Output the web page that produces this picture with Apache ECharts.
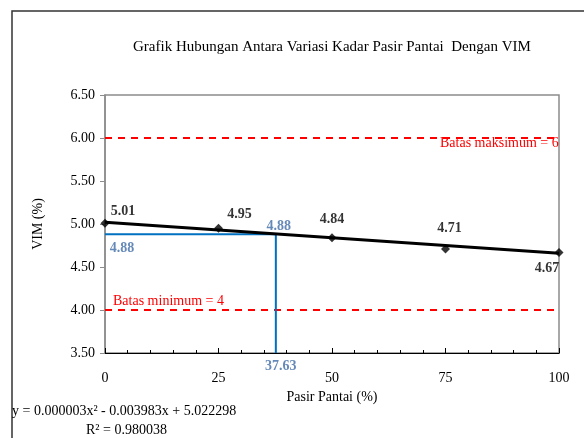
<!DOCTYPE html>
<html>
<head>
<meta charset="utf-8">
<script src="https://cdn.jsdelivr.net/npm/echarts@6/dist/echarts.min.js"></script>
<style>html,body{margin:0;padding:0;background:#fff;}#c{width:584px;height:438px;}</style>
</head>
<body>
<div id="c"></div>
<script>
// ---- data ----
var pasirPantai = [0, 25, 50, 75, 100];
var vimValues = [5.01, 4.95, 4.84, 4.71, 4.67];
var trendX = [0, 100];
var trendY = [5.02, 4.66];
var optimumX = 37.63;
var optimumY = 4.88;
var batasMaks = 6;
var batasMin = 4;
var xTicks = [0, 25, 50, 75, 100];
var yTicks = [3.5, 4.0, 4.5, 5.0, 5.5, 6.0, 6.5];
var titleText = 'Grafik Hubungan Antara Variasi Kadar Pasir Pantai  Dengan VIM';
var eqText = 'y = 0.000003x\u00B2 - 0.003983x + 5.022298';
var r2Text = 'R\u00B2 = 0.980038';

var FONT = '"Liberation Serif", "Times New Roman", serif';
var labelOffsets = [[18,-12],[21,-14],[0,-18],[4,-21],[-12,16]];

var chart = echarts.init(document.getElementById('c'), null, {renderer:'canvas'});
var scatterData = pasirPantai.map(function(x,i){
  return {
    value:[x, vimValues[i]],
    label:{show:true, position:'inside', offset:labelOffsets[i], formatter:vimValues[i].toFixed(2)}
  };
});
var trendData = trendX.map(function(x,i){return [x, trendY[i]];});
var blueLine = [[0, optimumY],[optimumX, optimumY],[optimumX, yTicks[0]]];
var blueLabels = [
  {value:[0, optimumY], label:{show:true, position:'inside', offset:[17,14], formatter:optimumY.toFixed(2)}},
  {value:[optimumX, optimumY], label:{show:true, position:'inside', offset:[3,-8], formatter:optimumY.toFixed(2)}},
  {value:[optimumX, yTicks[0]], label:{show:true, position:'inside', offset:[5,13], formatter:optimumX.toFixed(2)}}
];

chart.setOption({
  animation:false,
  backgroundColor:'#fff',
  title:{
    text:titleText, left:128, top:35,
    textStyle:{fontFamily:FONT, fontSize:15, fontWeight:'normal', color:'#000'}
  },
  grid:{left:105, right:25, top:95, bottom:85, show:true, borderColor:'#8c8c8c', borderWidth:1.5, backgroundColor:'transparent'},
  xAxis:{
    type:'value', min:xTicks[0], max:xTicks[xTicks.length-1], interval:25,
    name:'Pasir Pantai (%)', nameLocation:'middle', nameGap:37,
    nameTextStyle:{fontFamily:FONT, fontSize:14, color:'#000'},
    axisLine:{show:true, onZero:false, lineStyle:{color:'#000', width:1.2}},
    axisTick:{show:true, inside:true, length:5, lineStyle:{color:'#000'}},
    minorTick:{show:true, splitNumber:5, length:3, lineStyle:{color:'#000'}},
    axisLabel:{fontFamily:FONT, fontSize:14, color:'#000', margin:18},
    splitLine:{show:false}
  },
  yAxis:{
    type:'value', min:yTicks[0], max:yTicks[yTicks.length-1], interval:0.5,
    name:'VIM (%)', nameLocation:'middle', nameGap:60, nameRotate:90,
    nameTextStyle:{fontFamily:FONT, fontSize:14, color:'#000'},
    axisLine:{show:true, lineStyle:{color:'#8c8c8c', width:1.5}},
    axisTick:{show:true, length:5, lineStyle:{color:'#8c8c8c'}},
    axisLabel:{fontFamily:FONT, fontSize:14, color:'#000', margin:10, formatter:function(v){return v.toFixed(2);}},
    splitLine:{show:false}
  },
  series:[
    {
      type:'line', data:[[xTicks[0], batasMaks],[xTicks[xTicks.length-1], batasMaks]],
      symbol:'none', lineStyle:{color:'#ff0000', width:2, type:[7,6]}, silent:true,
      endLabel:{show:true, formatter:'Batas maksimum = ' + batasMaks, fontFamily:FONT, fontSize:14, color:'#ff0000', offset:[-127,5]}
    },
    {
      type:'line', data:[[xTicks[0], batasMin],[xTicks[xTicks.length-1], batasMin]],
      symbol:'none', lineStyle:{color:'#ff0000', width:2, type:[7,6]}, silent:true
    },
    {
      type:'line', data:blueLine, symbol:'none',
      lineStyle:{color:'#0070c0', width:2}
    },
    {
      type:'scatter', data:blueLabels, symbolSize:0, z:5,
      label:{fontFamily:FONT, fontSize:14, fontWeight:'bold', color:'#3f6ca6'}
    },
    {
      type:'line', data:trendData, symbol:'none', lineStyle:{color:'#000', width:3}
    },
    {
      type:'scatter', data:scatterData, symbol:'diamond', symbolSize:9,
      itemStyle:{color:'#000'},
      label:{fontFamily:FONT, fontSize:14, fontWeight:'bold', color:'#000'}
    }
  ],
  graphic:[
    {type:'rect', shape:{x:12, y:11, width:600, height:500}, style:{fill:'none', stroke:'#333', lineWidth:1.5}, silent:true},
    {type:'text', left:113, top:294, style:{text:'Batas minimum = ' + batasMin, font:'14px ' + FONT, fill:'#ff0000'}},
    {type:'text', left:12, top:404, style:{text:eqText, font:'14px ' + FONT, fill:'#000'}},
    {type:'text', left:86, top:423, style:{text:r2Text, font:'14px ' + FONT, fill:'#000'}}
  ]
});
</script>
</body>
</html>
